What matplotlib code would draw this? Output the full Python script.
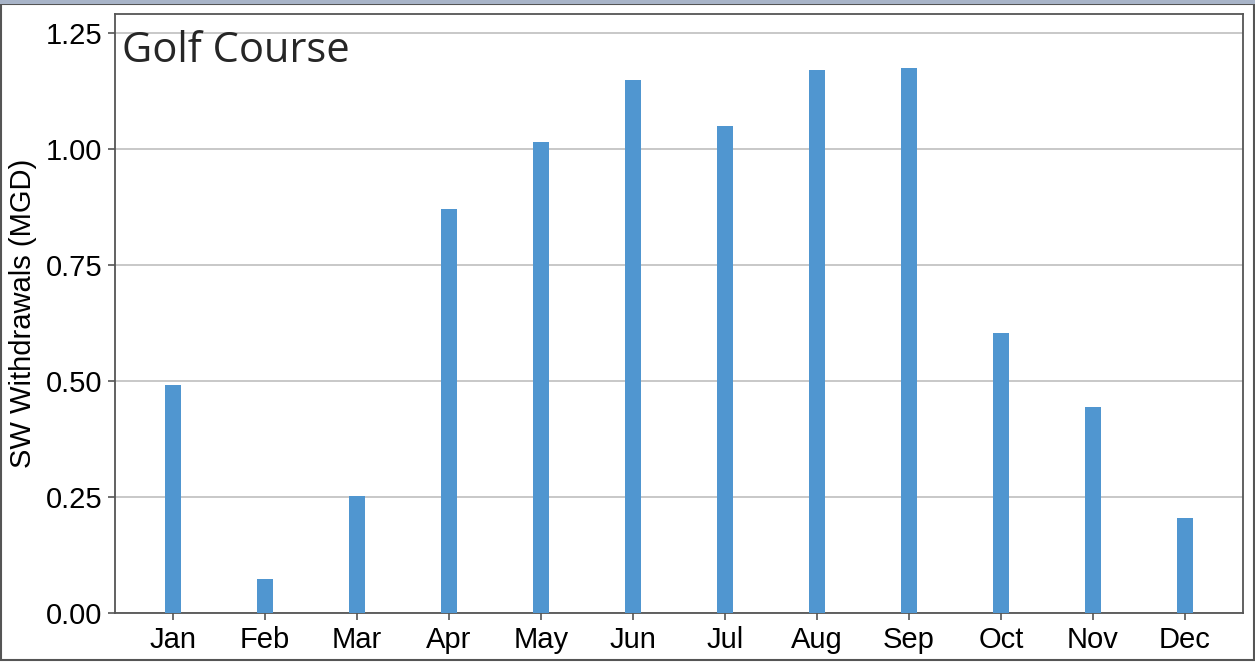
import numpy as np
import matplotlib.pyplot as plt

months = ['Jan', 'Feb', 'Mar', 'Apr', 'May', 'Jun',
          'Jul', 'Aug', 'Sep', 'Oct', 'Nov', 'Dec']
withdrawals = [0.490, 0.073, 0.252, 0.871, 1.015, 1.147,
               1.048, 1.170, 1.173, 0.602, 0.443, 0.204]
yticks = [0.00, 0.25, 0.50, 0.75, 1.00, 1.25]

plt.rcParams['font.family'] = ['Liberation Sans', 'DejaVu Sans']

fig = plt.figure(figsize=(12.55, 6.63), dpi=100)
ax = fig.add_axes([0.0916, 0.0754, 0.8988, 0.9035])

x = np.arange(len(months))
ax.bar(x, withdrawals, width=0.165, color='#5096d0', zorder=3)

ax.set_xlim(-0.63, 11.63)
ax.set_ylim(0, 1.29)
ax.set_xticks(x)
ax.set_xticklabels(months, fontsize=21)
ax.set_yticks(yticks)
ax.set_yticklabels(['%.2f' % v for v in yticks], fontsize=21)
ax.yaxis.grid(True, color='#c4c4c4', linewidth=1.3, zorder=0)
ax.tick_params(axis='both', direction='out', length=5, width=1.2,
               color='#555555', pad=4)
ax.set_ylabel('SW Withdrawals (MGD)', fontsize=21, labelpad=6)

for s in ax.spines.values():
    s.set_color('#555555')
    s.set_linewidth(1.3)

ax.text(0.006, 0.920, 'Golf Course', transform=ax.transAxes,
        fontsize=30, family='Open Sans', color='#262626',
        va='baseline', ha='left')

# frame around the whole picture
fig.patches.append(plt.Rectangle((0.001, 0.004), 0.998, 0.99, transform=fig.transFigure,
                                 fill=False, edgecolor='#555555', linewidth=1.5))
fig.patches.append(plt.Rectangle((0, 0.994), 1, 0.006, transform=fig.transFigure,
                                 color='#a8b4c8', linewidth=0))

fig.savefig('out.png', dpi=100)
